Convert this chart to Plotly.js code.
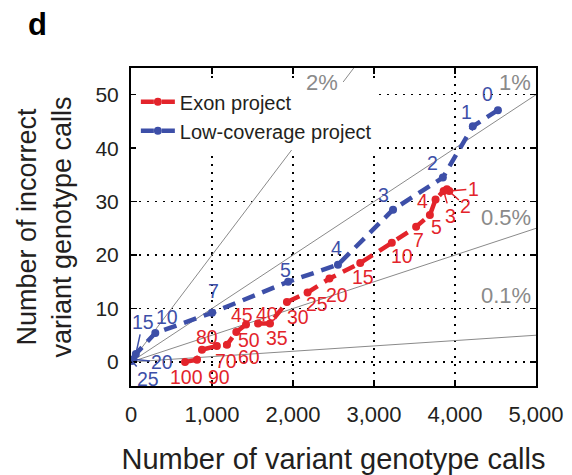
<!DOCTYPE html>
<html>
<head>
<meta charset="utf-8">
<script src="https://cdn.plot.ly/plotly-3.0.1.min.js"></script>
<style>html,body{margin:0;padding:0;background:#fff;}#chart{width:572px;height:475px;}</style>
</head>
<body>
<div id="chart"></div>
<script>
// ---- data ----
const redThresh = [1, 2, 3, 4, 5, 7, 10, 15, 20, 25, 30, 35, 40, 45, 50, 60, 70, 80, 90, 100];
const redCalls  = [3930, 3900, 3860, 3760, 3690, 3520, 3220, 2830, 2450, 2180, 1925, 1716, 1568, 1420, 1300, 1185, 1060, 876, 815, 667];
const redErrors = [32, 32.3, 32, 30.4, 27.5, 25.3, 22.3, 18.5, 15.6, 13, 11.2, 7.2, 7.2, 7, 5.6, 3.2, 3.0, 2.3, 0.4, 0];

const blueThresh = [0, 1, 2, 3, 4, 5, 7, 10, 15, 20, 25];
const blueCalls  = [4530, 4220, 3850, 3235, 2555, 1940, 1000, 300, 60, 30, 10];
const blueErrors = [47.1, 44.1, 34.5, 28.5, 18.2, 15, 9.2, 5.4, 1.5, 0.5, 0.2];

const refRates  = [0.02, 0.01, 0.005, 0.001];
const refLabels = ['2%', '1%', '0.5%', '0.1%'];

const xTicks = [0, 1000, 2000, 3000, 4000, 5000];
const yTicks = [0, 10, 20, 30, 40, 50];

// ---- label placement (pixel offsets of the text from its point; +dy = down) ----
const redDx = [24, 19, 7, -13, 7, 2, 10, 3, 8, 9, 11, 7, 9, -4, 13, 22, 9, 5, 22, 1];
const redDy = [-2, 17, 25, 2, 12, 13, 13, 14, 16, 12, 15, 15, -9, -10, 8, 12, 15, -13, 17, 15];
const redLeader = [true, true, true, false, false, false, false, false, false, false, false, false, false, false, false, false, false, false, false, false];
const blueDx = [-10, -6, -10, -10, -1, -3, 1, 12, 7, 29, 16];
const blueDy = [-16, -14, -15, -15, -17, -12, -22, -16, -32, 3, 18];
const blueLeader = [false, false, false, false, false, false, false, false, true, true, true];

const RED = '#e3242b';
const BLUE = '#3d4fa8';
const DARK = '#231f20';
const GRAY = '#8a8a8a';
const FONT = 'Liberation Sans, Arial, sans-serif';
const X_MAX = 5000, Y_MIN = -4.5, Y_MAX = 55;
const LABEL_SIZE = 19.5;

const traces = [];
refRates.forEach(r => {
  const xe = Math.min(X_MAX, Y_MAX / r);
  traces.push({x: [0, xe], y: [0, xe * r], mode: 'lines', showlegend: false, hoverinfo: 'skip',
    line: {color: GRAY, width: 1}});
});
traces.push({x: redCalls, y: redErrors, name: 'Exon project', mode: 'lines+markers',
  line: {color: RED, width: 4.5, dash: '13px,8px'}, marker: {color: RED, size: 8}});
traces.push({x: blueCalls, y: blueErrors, name: 'Low-coverage project', mode: 'lines+markers',
  line: {color: BLUE, width: 4.5, dash: '13px,8px'}, marker: {color: BLUE, size: 8}});

const annotations = [];
function addLabels(th, xs, ys, dx, dy, lead, color) {
  th.forEach((t, i) => {
    if (lead[i]) {
      annotations.push({x: xs[i], y: ys[i], xref: 'x', yref: 'y', text: String(t), showarrow: true,
        arrowhead: 0, arrowwidth: 1.5, arrowcolor: color, ax: dx[i], ay: dy[i],
        font: {family: FONT, size: LABEL_SIZE, color: color}});
    } else {
      annotations.push({x: xs[i], y: ys[i], xref: 'x', yref: 'y', text: String(t), showarrow: false,
        xshift: dx[i], yshift: -dy[i], font: {family: FONT, size: LABEL_SIZE, color: color}});
    }
  });
}
addLabels(redThresh, redCalls, redErrors, redDx, redDy, redLeader, RED);
addLabels(blueThresh, blueCalls, blueErrors, blueDx, blueDy, blueLeader, BLUE);

// reference-line labels
const refLabelPos = [[2360, 52.3], [4960, 52.3], [4960, 27], [4960, 12.5]];
refLabels.forEach((t, i) => {
  annotations.push({x: refLabelPos[i][0], y: refLabelPos[i][1], xref: 'x', yref: 'y', text: t,
    showarrow: false, xanchor: (i === 0 ? 'center' : 'right'), font: {family: FONT, size: 22, color: GRAY}});
});
// panel letter
annotations.push({x: (37 - 131) / 405, y: (386 - 24) / 318, xref: 'paper', yref: 'paper', text: '<b>d</b>',
  showarrow: false, xanchor: 'center', yanchor: 'middle', font: {family: FONT, size: 31, color: '#000'}});

const axisCommon = {
  ticks: 'inside', ticklen: 6, tickwidth: 1.5, tickcolor: '#000', mirror: 'allticks',
  showline: true, linecolor: '#000', linewidth: 2, zeroline: false,
  showgrid: true, gridcolor: '#000', griddash: '2px,6px', gridwidth: 1.5
};

const layout = {
  width: 572, height: 475,
  margin: {l: 131, r: 36, t: 68, b: 89, pad: 0},
  paper_bgcolor: '#fff', plot_bgcolor: '#fff',
  showlegend: true,
  legend: {x: 0.012, y: 0.955, xanchor: 'left', yanchor: 'top', bgcolor: '#fff', borderwidth: 0,
    font: {family: FONT, size: 20, color: DARK}, tracegroupgap: 0, itemwidth: 34},
  xaxis: Object.assign({}, axisCommon, {
    range: [0, X_MAX], tickvals: xTicks, ticktext: xTicks.map(v => v.toLocaleString('en-US')),
    ticklabelstandoff: 8, tickfont: {family: FONT, size: 22, color: DARK},
    title: {text: 'Number of variant genotype calls', font: {family: FONT, size: 29, color: DARK}, standoff: 23}
  }),
  yaxis: Object.assign({}, axisCommon, {
    range: [Y_MIN, Y_MAX], tickvals: yTicks, ticklabelstandoff: 6, tickfont: {family: FONT, size: 21, color: DARK},
    title: {text: 'Number of incorrect<br>variant genotype calls', font: {family: FONT, size: 27, color: DARK}, standoff: 16}
  }),
  annotations: annotations
};

Plotly.newPlot('chart', traces, layout, {displayModeBar: false, staticPlot: true});
</script>
</body>
</html>
